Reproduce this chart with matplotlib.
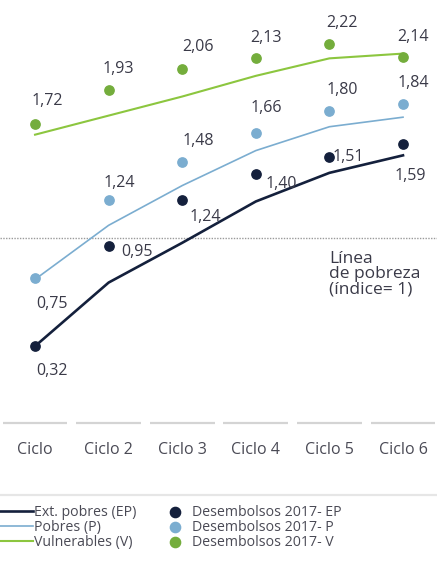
import numpy as np
import matplotlib.pyplot as plt

plt.rcParams['font.family'] = ['Open Sans', 'DejaVu Sans']

ciclos = ['Ciclo', 'Ciclo 2', 'Ciclo 3', 'Ciclo 4', 'Ciclo 5', 'Ciclo 6']

# trend lines
linea_ep = [0.32, 0.72, 0.97, 1.23, 1.41, 1.52]
linea_p = [0.74, 1.08, 1.33, 1.55, 1.70, 1.76]
linea_v = [1.65, 1.77, 1.89, 2.02, 2.13, 2.16]

# desembolsos 2017
desemb_ep = [0.32, 0.95, 1.24, 1.40, 1.51, 1.59]
desemb_p = [0.75, 1.24, 1.48, 1.66, 1.80, 1.84]
desemb_v = [1.72, 1.93, 2.06, 2.13, 2.22, 2.14]

nombres_lineas = ['Ext. pobres (EP)', 'Pobres (P)', 'Vulnerables (V)']
nombres_puntos = ['Desembolsos 2017- EP', 'Desembolsos 2017- P', 'Desembolsos 2017- V']

c_ep = '#14203c'
c_p = '#7badd0'
c_v_line = '#8cc63f'
c_v_dot = '#74ad3c'
c_txt = '#3a3a48'

fig = plt.figure(figsize=(4.37, 5.61), dpi=100)
ax = fig.add_axes([0, 0, 1, 1])
x = np.arange(len(ciclos))

ax.set_xlim(-0.476, 5.462)
ax.set_ylim(-1.031, 2.497)
ax.axis('off')

# poverty line
ax.axhline(1, color='#9a9a9a', lw=1.0, ls=(0, (1, 1)), zorder=1)
ax.text(4.0, 0.92, 'Línea\nde pobreza\n(índice= 1)', fontsize=12.5, color=c_txt,
        va='top', ha='left', linespacing=0.95)

l_ep, = ax.plot(x, linea_ep, color=c_ep, lw=1.9, zorder=2)
l_p, = ax.plot(x, linea_p, color=c_p, lw=1.2, zorder=2)
l_v, = ax.plot(x, linea_v, color=c_v_line, lw=1.5, zorder=2)

s_ep = ax.scatter(x, desemb_ep, s=45, color=c_ep, zorder=3)
s_p = ax.scatter(x, desemb_p, s=45, color=c_p, zorder=3)
s_v = ax.scatter(x, desemb_v, s=45, color=c_v_dot, zorder=3)

def fmt(v):
    return f'{v:.2f}'.replace('.', ',')

# label offsets in pixels (dx, dy)
off_v = [(12, 23), (10, 21), (16, 22), (10, 20), (13, 21), (10, 20)]
off_p = [(17, -26), (11, 17), (16, 21), (10, 25), (13, 21), (10, 21)]
off_ep = [(17, -25), (28, -6), (23, -17), (25, -10), (19, 0), (7, -32)]

for vals, offs in [(desemb_v, off_v), (desemb_p, off_p), (desemb_ep, off_ep)]:
    for i, (v, (dx, dy)) in enumerate(zip(vals, offs)):
        ax.annotate(fmt(v), (x[i], v), xytext=(dx, dy), textcoords='offset pixels',
                    ha='center', va='center', fontsize=11.5, color=c_txt, zorder=4)

# category axis: short gray segments with labels below
for i, name in enumerate(ciclos):
    ax.plot([i - 0.44, i + 0.44], [-0.164, -0.164], color='#d4d4d4', lw=1.6,
            solid_capstyle='butt')
    ax.text(i, -0.335, name, ha='center', va='center', fontsize=11.5, color='#4a4a55')

ax.axhline(-0.616, color='#e6e6e6', lw=1.6)

ax.legend([l_ep, l_p, l_v, s_ep, s_p, s_v], nombres_lineas + nombres_puntos,
          ncol=2, loc='upper left', bbox_to_anchor=(-0.012, 0.11), frameon=False,
          fontsize=10.2, handlelength=2.3, handletextpad=0.05, labelspacing=0.0,
          columnspacing=1.6, borderaxespad=0, labelcolor='#4a4a55', markerscale=1.1)

fig.savefig('out.png', dpi=100, facecolor='white')
